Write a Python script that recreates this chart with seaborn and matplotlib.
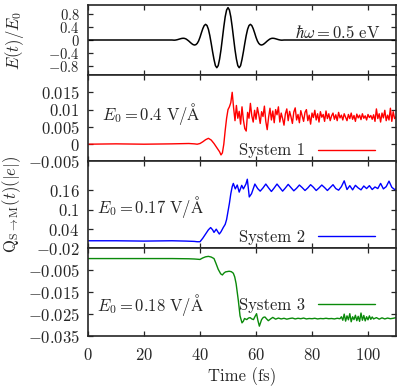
import numpy as np
import matplotlib
matplotlib.use("Agg")
import matplotlib.pyplot as plt
import seaborn as sns

# ---------------- data ----------------
# Panel 1: normalised laser pulse E(t)/E0 (samples every 0.5 fs between 30 and 70 fs)
pulse_t = [0.0] + list(np.arange(30.0, 70.01, 0.5)) + [110.0]
pulse_v = ([0.0] +
           [0.000, -0.004, -0.005, 0.002, 0.012, 0.025, 0.038, 0.049, 0.054, 0.049,
            0.032, 0.002, -0.032, -0.072, -0.110, -0.140, -0.155, -0.145, -0.105, -0.030,
            0.084, 0.222, 0.350, 0.445, 0.483, 0.447, 0.331, 0.139, -0.103, -0.364,
            -0.600, -0.790, -0.855, -0.790, -0.588, -0.301, 0.049, 0.407, 0.717, 0.926,
            1.000,
            0.926, 0.717, 0.407, 0.049, -0.301, -0.588, -0.790, -0.855, -0.790, -0.600,
            -0.364, -0.103, 0.139, 0.331, 0.447, 0.483, 0.445, 0.350, 0.222, 0.084,
            -0.030, -0.105, -0.145, -0.155, -0.140, -0.110, -0.072, -0.032, 0.002, 0.032,
            0.049, 0.054, 0.049, 0.038, 0.025, 0.012, 0.002, -0.005, -0.004, 0.000]
           + [0.0])

# Panel 2: System 1
sys1_t = ([0, 10, 20, 30, 36, 38, 39, 40, 41, 42, 43, 44, 45, 46, 47, 47.5, 48, 48.5,
           49, 49.5, 50, 50.5, 51, 51.5, 52] + list(np.arange(52.5, 110.01, 0.5)))
sys1_v = [0.0000, 0.0001, 0.0000, 0.0001, 0.0002, 0.0001, 0.0000, 0.0002, 0.0007, 0.0013,
          0.0017, 0.0012, 0.0002, -0.0010, -0.0022, -0.0031, -0.0025, 0.0000, 0.0040, 0.0075,
          0.0100, 0.0108, 0.0120, 0.0150, 0.0105,
          0.0068, 0.0112, 0.0075, 0.0095, 0.0058, 0.0108, 0.0070, 0.0045, 0.0038, 0.0092,
          0.0075, 0.0118, 0.0082, 0.0064, 0.0098, 0.0072, 0.0106, 0.0085, 0.0060, 0.0094,
          0.0080, 0.0110, 0.0066, 0.0042, 0.0078, 0.0104, 0.0070, 0.0096, 0.0062, 0.0100,
          0.0085, 0.0108, 0.0064, 0.0090, 0.0074, 0.0055, 0.0088, 0.0102, 0.0068, 0.0095,
          0.0079, 0.0060, 0.0093, 0.0105, 0.0070, 0.0086, 0.0062, 0.0097, 0.0081, 0.0066,
          0.0092, 0.0100, 0.0068, 0.0084, 0.0058, 0.0090, 0.0077, 0.0098, 0.0070, 0.0088,
          0.0064, 0.0094, 0.0078, 0.0086, 0.0066, 0.0096, 0.0074, 0.0088, 0.0068, 0.0082,
          0.0090, 0.0072, 0.0085, 0.0068, 0.0092, 0.0076, 0.0084, 0.0070, 0.0088, 0.0078,
          0.0068, 0.0086, 0.0074, 0.0090, 0.0072, 0.0083, 0.0066, 0.0087, 0.0076, 0.0084,
          0.0071, 0.0088, 0.0075, 0.0082, 0.0070, 0.0086, 0.0077, 0.0083, 0.0072, 0.0085,
          0.0066, 0.0102, 0.0074, 0.0088, 0.0064, 0.0090, 0.0076, 0.0098, 0.0068, 0.0084,
          0.0070, 0.0104, 0.0066, 0.0094, 0.0074, 0.0079]

# Panel 3: System 2
sys2_t = ([0, 10, 20, 30, 35, 38, 39, 40, 41, 42, 43, 43.8, 44.5, 45, 45.8, 46.5, 46.9,
           47.5, 48.3, 49, 49.5, 50, 50.5, 51, 51.5, 51.9, 52.6, 53.3, 54, 54.9, 55.5,
           56.4, 56.9, 57.6, 58.4, 59.6, 60.6] + list(np.arange(61.5, 109.51, 1.0)) + [110])
sys2_v = [0.004, 0.004, 0.003, 0.004, 0.003, 0.002, 0.001, 0.001, 0.012, 0.025,
          0.038, 0.045, 0.038, 0.030, 0.040, 0.030, 0.025, 0.032, 0.045, 0.055,
          0.070, 0.095, 0.120, 0.150, 0.172, 0.182, 0.165, 0.177, 0.155, 0.176,
          0.165, 0.180, 0.195, 0.140, 0.150, 0.180, 0.166,
          0.158, 0.168, 0.180, 0.168, 0.157, 0.168, 0.180, 0.169, 0.158, 0.168,
          0.179, 0.169, 0.159, 0.167, 0.177, 0.169, 0.160, 0.168, 0.178, 0.170,
          0.160, 0.168, 0.177, 0.169, 0.160, 0.169, 0.178, 0.166, 0.161, 0.172,
          0.190, 0.163, 0.175, 0.162, 0.176, 0.168, 0.162, 0.174, 0.166, 0.175,
          0.163, 0.171, 0.166, 0.182, 0.165, 0.172, 0.189, 0.170, 0.163, 0.165]

# Panel 4: System 3
sys3_t = ([0, 10, 20, 30, 36, 38, 40, 41, 42, 43, 44, 45, 45.7, 46.5, 47.4, 48, 48.5,
           49.1, 50.4, 51.2, 51.9, 52.4, 52.9, 53.3, 53.7, 54.3, 55, 55.5, 55.9, 56.7,
           57.3, 57.9, 58.5, 59.1, 59.6, 60.2, 60.7, 61.2, 61.6, 62, 62.6, 63.2, 63.8,
           64.4, 65.2, 66, 67]
          + list(np.arange(68.0, 90.01, 1.0))
          + list(np.arange(90.5, 102.01, 0.5))
          + list(np.arange(103.0, 110.01, 1.0)))
sys3_v = [0.0004, 0.0004, 0.0004, 0.0004, 0.0003, 0.0002, 0.0000,
          0.0007, 0.0012, 0.0014, 0.0011, 0.0004,
          -0.0018, -0.0045, -0.0066, -0.0071, -0.0063,
          -0.0057, -0.0054, -0.0056, -0.0063, -0.0080,
          -0.0111, -0.0150, -0.0189, -0.0258, -0.0290,
          -0.0282, -0.0270, -0.0275, -0.0268, -0.0266,
          -0.0272, -0.0275, -0.0262, -0.0248, -0.0280,
          -0.0305, -0.0290, -0.0275, -0.0265, -0.0263,
          -0.0272, -0.0280, -0.0272, -0.0265, -0.0273,
          -0.0268, -0.0272, -0.0269, -0.0273, -0.0270, -0.0268, -0.0272, -0.0269, -0.0271,
          -0.0268, -0.0272, -0.0270, -0.0271, -0.0269, -0.0272, -0.0270, -0.0271, -0.0269,
          -0.0271, -0.0270, -0.0272, -0.0269, -0.0271,
          -0.0262, -0.0278, -0.0250, -0.0282, -0.0258, -0.0276, -0.0248, -0.0285, -0.0262,
          -0.0275, -0.0255, -0.0280, -0.0260, -0.0283, -0.0245, -0.0278, -0.0256, -0.0281,
          -0.0262, -0.0276, -0.0258, -0.0274, -0.0263, -0.0272,
          -0.0266, -0.0273, -0.0267, -0.0272, -0.0268, -0.0271, -0.0269, -0.0266]

# ticks / labels
x_ticks = [0, 20, 40, 60, 80, 100]
x_ticklabels = ["$0$", "$20$", "$40$", "$60$", "$80$", "$100$"]
p1_ticks = [0.8, 0.4, 0, -0.4, -0.8]
p1_labels = ["$0.8$", "$0.4$", "$0$", "$-0.4$", "$-0.8$"]
p2_ticks = [0.015, 0.01, 0.005, 0, -0.005]
p2_labels = ["$0.015$", "$0.01$", "$0.005$", "$0$", "$-0.005$"]
p3_ticks = [0.16, 0.1, 0.04, -0.02]
p3_labels = ["$0.16$", "$0.1$", "$0.04$", "$-0.02$"]
p4_ticks = [-0.005, -0.015, -0.025, -0.035]
p4_labels = ["$-0.005$", "$-0.015$", "$-0.025$", "$-0.035$"]

series_names = ["System 1", "System 2", "System 3"]
field_labels = [r"$E_0 = 0.4\ \mathrm{V/\AA}$", r"$E_0 = 0.17\ \mathrm{V/\AA}$",
                r"$E_0 = 0.18\ \mathrm{V/\AA}$"]
colors = ["#ff0000", "#0000ff", "#0a8a0a"]

# ---------------- style ----------------
sns.set_style("ticks")
plt.rcParams["font.family"] = ["cmr10", "DejaVu Serif"]
plt.rcParams["mathtext.fontset"] = "cm"
plt.rcParams["axes.formatter.use_mathtext"] = True
plt.rcParams["axes.linewidth"] = 1.2
FS = 12

fig = plt.figure(figsize=(4.16, 3.86), dpi=100)
gs = fig.add_gridspec(4, 1, height_ratios=[70, 86.5, 87, 87.5], hspace=0,
                      left=88/416, right=396/416, top=1-5/386, bottom=1-336/386)
axes = [fig.add_subplot(gs[i]) for i in range(4)]

sns.lineplot(x=pulse_t, y=pulse_v, ax=axes[0], color="black", lw=1.1, estimator=None)
sns.lineplot(x=sys1_t, y=sys1_v, ax=axes[1], color=colors[0], lw=1.0, estimator=None)
sns.lineplot(x=sys2_t, y=sys2_v, ax=axes[2], color=colors[1], lw=1.0, estimator=None)
sns.lineplot(x=sys3_t, y=sys3_v, ax=axes[3], color=colors[2], lw=1.0, estimator=None)

ylims = [(-1.08, 1.08), (-0.005, 0.02), (-0.02, 0.25), (-0.035, 0.005)]
yt = [(p1_ticks, p1_labels), (p2_ticks, p2_labels), (p3_ticks, p3_labels), (p4_ticks, p4_labels)]
for i, ax in enumerate(axes):
    ax.set_xlim(0, 110)
    ax.set_ylim(*ylims[i])
    ax.set_yticks(yt[i][0], labels=yt[i][1])
    ax.set_xticks(x_ticks, labels=x_ticklabels)
    ax.tick_params(direction="in", top=True, right=True, length=3.8, width=0.9,
                   labelsize=FS, pad=6)
    ax.tick_params(axis="x", pad=8)
    if i < 3:
        ax.tick_params(axis="x", labelbottom=False)
    ax.set_xlabel("")
    ax.set_ylabel("")
    for s in ax.spines.values():
        s.set_visible(True)
        s.set_linewidth(1.2)
axes[0].tick_params(axis="y", labelsize=10.5)

axes[0].text(104.3, 0.22, r"$\hbar\omega = 0.5\ \mathrm{eV}$", ha="right", va="center", fontsize=FS)
text_pos = [(4.9, 0.0088), (3.3, 0.11), (3.3, -0.0208)]
leg_pos = [(0.932, 0.125), (0.932, 0.129), (0.932, 0.354)]
for k in range(3):
    ax = axes[k + 1]
    ax.text(text_pos[k][0], text_pos[k][1], field_labels[k], ha="left", va="center", fontsize=FS)
    line = ax.get_lines()[0]
    line.set_label(series_names[k])
    ax.legend(handles=[line], labels=[series_names[k]], loc="center right",
              bbox_to_anchor=leg_pos[k], frameon=False, markerfirst=False,
              handlelength=3.4, handletextpad=0.8, borderpad=0, borderaxespad=0,
              fontsize=FS)

fig.text(15/416, 1-40/386, r"$E(t)/E_0$", rotation=90, ha="center", va="center", fontsize=FS)
fig.text(12/416, 1-205/386, r"$\mathrm{Q}_{\mathrm{S}\rightarrow\mathrm{M}}(t)(|e|)$",
         rotation=90, ha="center", va="center", fontsize=FS)
fig.text(242/416, 1-377/386, "Time (fs)", ha="center", va="center", fontsize=FS)

fig.savefig("out.png", dpi=100)
